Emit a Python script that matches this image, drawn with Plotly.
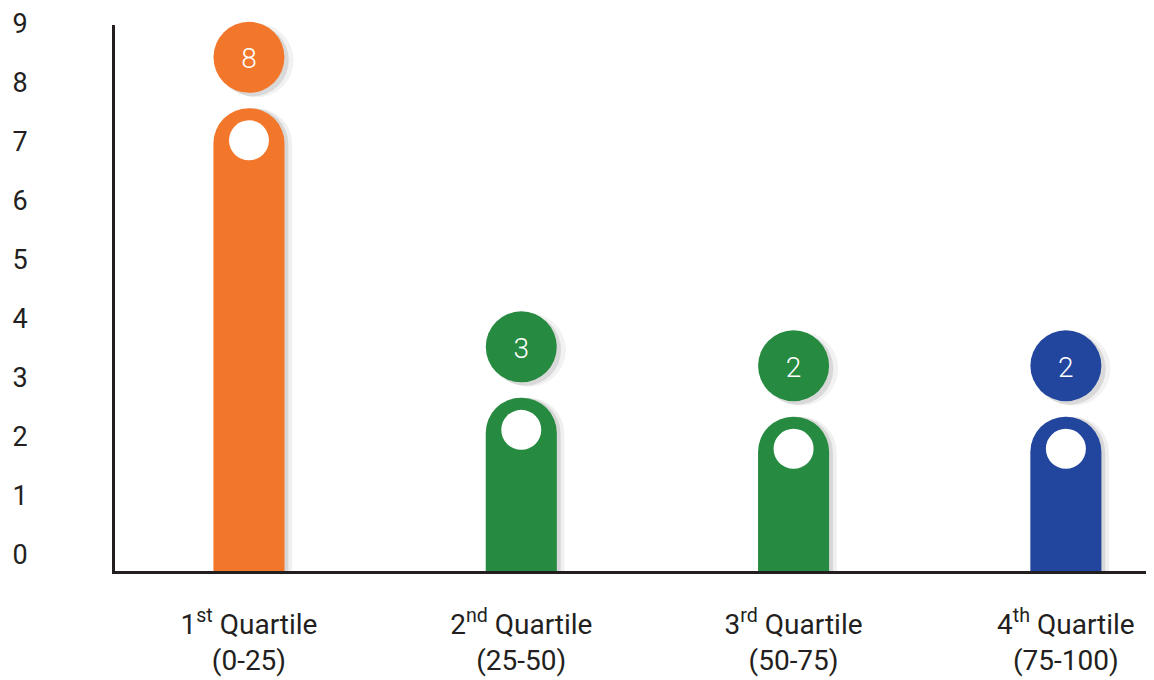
import plotly.graph_objects as go

# Quartile categories and what the picture shows
categories = ["1<sup>st</sup> Quartile<br>(0-25)", "2<sup>nd</sup> Quartile<br>(25-50)",
              "3<sup>rd</sup> Quartile<br>(50-75)", "4<sup>th</sup> Quartile<br>(75-100)"]
bar_heights = [7.83, 2.93, 2.61, 2.61]   # heights as drawn
counts = [8, 3, 2, 2]                     # numbers in the bubbles
colors = ["#F3772B", "#268A40", "#268A40", "#22469E"]
y_ticks = [0, 1, 2, 3, 4, 5, 6, 7, 8, 9]

pos = list(range(len(categories)))
px_per_unit = 59.1
bubble_lift = 51 / px_per_unit    # bubble centre above bar top
dot_drop = 32 / px_per_unit       # white dot below bar top
text_drop = 4 / px_per_unit       # number sits a touch below bubble centre
shadow_dx = 0.014

fig = go.Figure()

# soft shadows behind bars
for a, dx in [(0.10, shadow_dx), (0.06, shadow_dx * 2)]:
    fig.add_trace(go.Bar(
        x=[p + dx for p in pos], y=bar_heights, width=0.261,
        marker=dict(color=f"rgba(0,0,0,{a})", cornerradius="50%", line=dict(width=0)),
        hoverinfo="skip",
    ))

# bars
fig.add_trace(go.Bar(
    x=pos, y=bar_heights, width=0.261,
    marker=dict(color=colors, cornerradius="50%", line=dict(width=0)),
))

# bubble shadows
for a, dx, s in [(0.10, shadow_dx, 72), (0.05, shadow_dx * 2, 74)]:
    fig.add_trace(go.Scatter(
        x=[p + dx for p in pos], y=[h + bubble_lift - 0.05 for h in bar_heights],
        mode="markers", marker=dict(size=s, color=f"rgba(0,0,0,{a})", line=dict(width=0)),
        cliponaxis=False, hoverinfo="skip",
    ))

# value bubbles
fig.add_trace(go.Scatter(
    x=pos, y=[h + bubble_lift for h in bar_heights],
    mode="markers", marker=dict(size=71, color=colors, line=dict(width=0)),
    cliponaxis=False,
))
fig.add_trace(go.Scatter(
    x=pos, y=[h + bubble_lift - text_drop for h in bar_heights],
    mode="text", text=[str(c) for c in counts], textposition="middle center",
    textfont=dict(family="Roboto", size=28, color="white", weight=300),
    cliponaxis=False, hoverinfo="skip",
))

# white dots in bar heads
fig.add_trace(go.Scatter(
    x=pos, y=[h - dot_drop for h in bar_heights],
    mode="markers", marker=dict(size=40, color="white", line=dict(width=0)),
    cliponaxis=False,
))

fig.update_layout(
    width=1154, height=680,
    margin=dict(l=107, r=0, t=17, b=117),
    plot_bgcolor="white", paper_bgcolor="white",
    showlegend=False, barmode="overlay",
    font=dict(family="Roboto", size=27, color="#231F20"),
    xaxis=dict(
        range=[-0.492, 3.353], tickvals=pos, ticktext=categories, automargin=False,
        showgrid=False, zeroline=False, showline=True, linewidth=3, linecolor="#231F20",
        ticks="", ticklabelstandoff=26, tickfont=dict(size=28), ticklabeloverflow="allow",
    ),
    yaxis=dict(
        range=[0, 9.24], tickvals=y_ticks, automargin=False,
        showgrid=False, zeroline=False, showline=True, linewidth=3, linecolor="#231F20",
        ticks="", ticklabelstandoff=79, ticklabelshift=-16, tickfont=dict(size=27),
        ticklabeloverflow="allow",
    ),
)

fig.write_html("out.html")
